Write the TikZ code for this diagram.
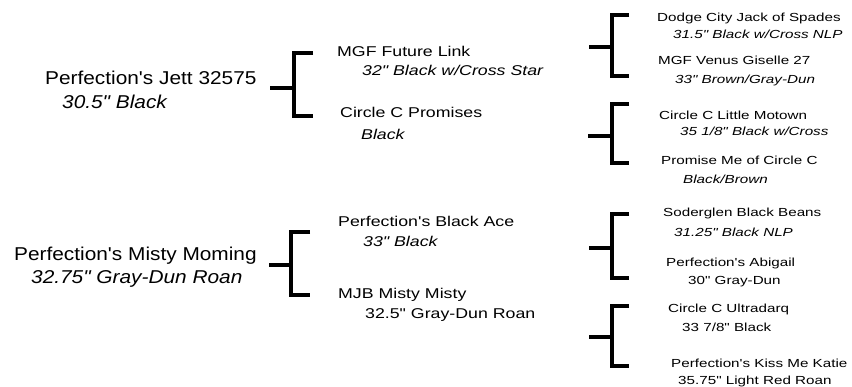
\documentclass[tikz,border=0pt]{standalone}
\usepackage{fontspec}
\setmainfont{Liberation Sans}
\newfontfamily\genonefont[FakeStretch=1.12]{Liberation Sans}
\newfontfamily\gentwofont[FakeStretch=1.25]{Liberation Sans}
\newfontfamily\genthreefont[FakeStretch=1.3]{Liberation Sans}
\tikzset{
    gen1/.style={
        anchor=base west,
        inner sep=0pt,
        font=\genonefont\fontsize{18.6}{22}\selectfont
    },
    gen2/.style={
        anchor=base west,
        inner sep=0pt,
        font=\gentwofont\fontsize{14.2}{17}\selectfont
    },
    gen3/.style={
        anchor=base west,
        inner sep=0pt,
        font=\genthreefont\fontsize{11.7}{14}\selectfont
    },
    bracket/.style={
        line width=4pt,
        line join=miter
    }
}

\begin{document}
\begin{tikzpicture}[
    x=1pt,
    y=-1pt
]
    \useasboundingbox (0,0) rectangle (852,387);

    % Padres
    \node[gen1] (jett)     at (45,85)   {Perfection's Jett 32575};
    \node[gen1] (jettc)    at (62,109)  {\textit{30.5" Black}};

    \node[gen1] (misty)    at (14,261)  {Perfection's Misty Moming};
    \node[gen1] (mistyc)   at (31,284)  {\textit{32.75" Gray-Dun Roan}};

    % Abuelos
    \node[gen2] (link)     at (337,57)  {MGF Future Link};
    \node[gen2] (linkc)    at (362,76)  {\textit{32" Black w/Cross Star}};

    \node[gen2] (prom)     at (340,118) {Circle C Promises};
    \node[gen2] (promc)    at (361,140) {\textit{Black}};

    \node[gen2] (ace)      at (338,227) {Perfection's Black Ace};
    \node[gen2] (acec)     at (363,247) {\textit{33" Black}};

    \node[gen2] (mjb)      at (338,299) {MJB Misty Misty};
    \node[gen2] (mjbc)     at (365,319) {32.5" Gray-Dun Roan};

    % Bisabuelos
    \node[gen3] (dodge)    at (657,22)  {Dodge City Jack of Spades};
    \node[gen3] (dodgec)   at (673,39)  {\textit{31.5" Black w/Cross NLP}};

    \node[gen3] (venus)    at (658,65)  {MGF Venus Giselle 27};
    \node[gen3] (venusc)   at (675,84)  {\textit{33" Brown/Gray-Dun}};

    \node[gen3] (motown)   at (659,120) {Circle C Little Motown};
    \node[gen3] (motownc)  at (680,136) {\textit{35 1/8" Black w/Cross}};

    \node[gen3] (promise)  at (661,165) {Promise Me of Circle C};
    \node[gen3] (promisec) at (683,184) {\textit{Black/Brown}};

    \node[gen3] (soder)    at (663,217) {Soderglen Black Beans};
    \node[gen3] (soderc)   at (674,237) {\textit{31.25" Black NLP}};

    \node[gen3] (abigail)  at (666,267) {Perfection's Abigail};
    \node[gen3] (abigailc) at (688,285) {30" Gray-Dun};

    \node[gen3] (ultra)    at (668,313) {Circle C Ultradarq};
    \node[gen3] (ultrac)   at (682,332) {33 7/8" Black};

    \node[gen3] (katie)    at (671,368) {Perfection's Kiss Me Katie};
    \node[gen3] (katiec)   at (678,385) {35.75" Light Red Roan};

    % Puntos de las llaves
    \coordinate (jettstub)  at (270,88);
    \coordinate (jettfork)  at (294,88);
    \coordinate (linkarm)   at (313,53);
    \coordinate (promarm)   at (313,116);

    \coordinate (mistystub) at (269,265);
    \coordinate (mistyfork) at (291,265);
    \coordinate (acearm)    at (310,232);
    \coordinate (mjbarm)    at (310,295);

    \coordinate (linkstub)  at (589,47);
    \coordinate (linkfork)  at (612,47);
    \coordinate (dodgearm)  at (629,15);
    \coordinate (venusarm)  at (629,76);

    \coordinate (promstub)  at (588,136);
    \coordinate (promfork)  at (612,136);
    \coordinate (motownarm) at (629,104);
    \coordinate (promisearm) at (629,163);

    \coordinate (acestub)   at (589,248);
    \coordinate (acefork)   at (612,248);
    \coordinate (soderarm)  at (629,214);
    \coordinate (abigailarm) at (629,278);

    \coordinate (mjbstub)   at (589,337);
    \coordinate (mjbfork)   at (612,337);
    \coordinate (ultraarm)  at (629,306);
    \coordinate (katiearm)  at (629,366);

    % Llaves
    \draw[bracket] (jettstub) -- (jettfork);
    \draw[bracket] (linkarm) -| (jettfork) |- (promarm);

    \draw[bracket] (mistystub) -- (mistyfork);
    \draw[bracket] (acearm) -| (mistyfork) |- (mjbarm);

    \draw[bracket] (linkstub) -- (linkfork);
    \draw[bracket] (dodgearm) -| (linkfork) |- (venusarm);

    \draw[bracket] (promstub) -- (promfork);
    \draw[bracket] (motownarm) -| (promfork) |- (promisearm);

    \draw[bracket] (acestub) -- (acefork);
    \draw[bracket] (soderarm) -| (acefork) |- (abigailarm);

    \draw[bracket] (mjbstub) -- (mjbfork);
    \draw[bracket] (ultraarm) -| (mjbfork) |- (katiearm);

\end{tikzpicture}
\end{document}
